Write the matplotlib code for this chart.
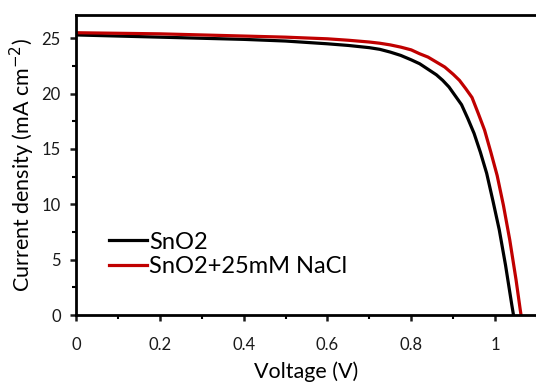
import matplotlib
matplotlib.use("Agg")
import matplotlib.pyplot as plt
from matplotlib.ticker import MultipleLocator

plt.rcParams['font.family'] = ['Lato', 'DejaVu Sans']

V_black = [0, 0.1, 0.2, 0.3, 0.4, 0.5, 0.6, 0.65, 0.7, 0.725, 0.75, 0.775, 0.8, 0.82, 0.84,
           0.86, 0.875, 0.89, 0.905, 0.92, 0.935, 0.95, 0.965, 0.98, 0.995, 1.01, 1.025,
           1.04, 1.044]
J_black = [25.3, 25.2, 25.1, 25.0, 24.9, 24.75, 24.5, 24.35, 24.15, 24.0, 23.75, 23.45,
           23.05, 22.7, 22.2, 21.7, 21.2, 20.6, 19.8, 19.0, 17.75, 16.4, 14.7, 12.8, 10.3,
           7.7, 4.5, 0.9, 0.0]

V_red = [0, 0.1, 0.2, 0.3, 0.4, 0.5, 0.6, 0.65, 0.7, 0.725, 0.75, 0.775, 0.8, 0.82, 0.84,
         0.86, 0.88, 0.9, 0.915, 0.93, 0.945, 0.96, 0.975, 0.99, 1.005, 1.02, 1.035, 1.05,
         1.06, 1.062]
J_red = [25.5, 25.45, 25.4, 25.3, 25.2, 25.1, 24.95, 24.82, 24.66, 24.55, 24.4, 24.2, 23.95,
         23.6, 23.3, 22.85, 22.4, 21.75, 21.2, 20.45, 19.65, 18.2, 16.7, 14.7, 12.6, 9.9,
         6.8, 3.2, 0.5, 0.0]

labels = ["SnO2", "SnO2+25mM NaCl"]
colors = ["#000000", "#C00000"]

fig = plt.figure(figsize=(5.36, 3.85), dpi=100)
ax = fig.add_axes([0.1418, 0.1818, 0.8600, 0.7792])

ax.plot(V_black, J_black, color=colors[0], lw=2.3, label=labels[0])
ax.plot(V_red, J_red, color=colors[1], lw=2.3, label=labels[1])

ax.set_xlim(0, 1.1)
ax.set_ylim(0, 27.1)
ax.xaxis.set_minor_locator(MultipleLocator(0.1))
ax.yaxis.set_minor_locator(MultipleLocator(2.5))
ax.set_xticks([0, 0.2, 0.4, 0.6, 0.8, 1.0])
ax.set_xticklabels(["0", "0.2", "0.4", "0.6", "0.8", "1"])
ax.set_yticks([0, 5, 10, 15, 20, 25])

for s in ax.spines.values():
    s.set_linewidth(2.0)
ax.spines['right'].set_visible(False)

ax.tick_params(which='major', direction='out', length=4, width=1.8, labelsize=12,
               colors='#1a1a1a')
ax.tick_params(which='minor', direction='out', length=3, width=1.5)
ax.tick_params(axis='y', pad=7)
ax.tick_params(axis='x', pad=12)

ax.set_xlabel("Voltage (V)", fontsize=15.5, labelpad=6)
ax.set_ylabel("Current density (mA cm$^{-2}$)", fontsize=15.5, labelpad=3)

leg = ax.legend(loc='center left', bbox_to_anchor=(0.072, 0.2017), frameon=False,
                fontsize=17, handlelength=1.6, handletextpad=0.1, labelspacing=0.15,
                borderpad=0, borderaxespad=0)

fig.savefig("out.png", dpi=100)
